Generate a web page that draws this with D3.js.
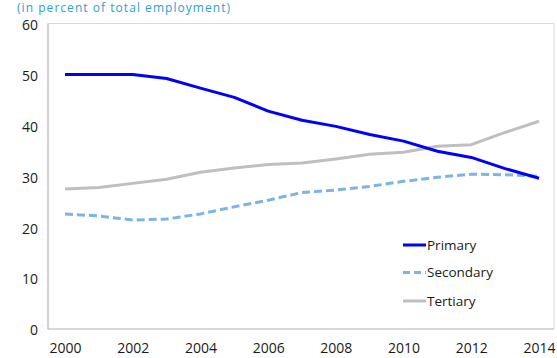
<!DOCTYPE html>
<html><head><meta charset="utf-8">
<script src="https://cdn.jsdelivr.net/npm/d3@7"></script>
<style>
body{margin:0;background:#fff;}
text{font-family:"Open Sans","Noto Sans",sans-serif;}
</style></head>
<body><svg id="c" width="557" height="358"></svg>
<script>
const years = [2000,2001,2002,2003,2004,2005,2006,2007,2008,2009,2010,2011,2012,2013,2014];
const primary   = [50.0,50.0,50.0,49.2,47.3,45.5,42.8,41.0,39.8,38.2,36.9,34.9,33.7,31.5,29.6];
const secondary = [22.6,22.2,21.4,21.6,22.6,24.0,25.3,26.8,27.3,28.0,29.0,29.8,30.4,30.3,30.0];
const tertiary  = [27.5,27.8,28.6,29.4,30.8,31.6,32.3,32.6,33.4,34.3,34.7,35.9,36.2,38.6,40.8];
const yTicks = [0,10,20,30,40,50,60];
const xTicks = [2000,2002,2004,2006,2008,2010,2012,2014];
const seriesNames = ["Primary","Secondary","Tertiary"];
const subtitle = "(in percent of total employment)";

const svg = d3.select("#c");
const L=48, R=554, T=23.5, B=329;
const x = d3.scaleLinear().domain([2000,2014]).range([65,539]);
const y = d3.scaleLinear().domain([0,60]).range([B,T]);

svg.append("text").attr("x",17).attr("y",11.5).attr("fill","#2a9fd0")
  .attr("font-family","'Liberation Sans',Arial,sans-serif")
  .attr("font-size",12).attr("textLength",213).attr("lengthAdjust","spacing").text(subtitle);

// frame
svg.append("path").attr("d",`M${L},${T}H${R}V${B}`).attr("fill","none")
  .attr("stroke","#d9d9d9").attr("stroke-width",1);
svg.append("path").attr("d",`M${L},${T}V${B}H${R}`).attr("fill","none")
  .attr("stroke","#b3b3b3").attr("stroke-width",1.2);

// y axis
const ya = svg.append("g").attr("transform",`translate(${L},0)`)
  .call(d3.axisLeft(y).tickValues(yTicks).tickSize(0).tickPadding(10));
ya.select(".domain").remove();
ya.selectAll("text").attr("font-size",14).attr("fill","#1a1a1a").attr("dy","0.42em")
  .attr("font-family","'Open Sans','Noto Sans',sans-serif");

// x axis
const xa = svg.append("g").attr("transform",`translate(0,${B})`)
  .call(d3.axisBottom(x).tickValues(xTicks).tickFormat(d3.format("d")).tickSize(0).tickPadding(14));
xa.select(".domain").remove();
xa.selectAll("text").attr("font-size",14).attr("fill","#1a1a1a")
  .attr("font-family","'Open Sans','Noto Sans',sans-serif");

const line = d3.line().x((d,i)=>x(years[i])).y(d=>y(d));
const styles = [
  {data:primary, color:"#0000ff", dash:null},
  {data:secondary, color:"#7db4e6", dash:"8,4"},
  {data:tertiary, color:"#bfbfbf", dash:null}
];
// draw order: tertiary, secondary, primary
[2,1,0].forEach(k=>{
  const s=styles[k];
  svg.append("path").attr("d",line(s.data)).attr("fill","none")
    .attr("stroke",s.color).attr("stroke-width",3)
    .attr("stroke-dasharray",s.dash).attr("stroke-linejoin","round");
});

// legend
const ly = [245,272.5,301];
seriesNames.forEach((n,i)=>{
  const s=styles[i];
  svg.append("line").attr("x1",403).attr("x2",426).attr("y1",ly[i]).attr("y2",ly[i])
    .attr("stroke",s.color).attr("stroke-width",3).attr("stroke-dasharray",s.dash?"7,4":null);
  svg.append("text").attr("x",427).attr("y",ly[i]).attr("dy","0.36em")
    .attr("font-size",13.5).attr("fill","#1a1a1a").text(n);
});
</script></body></html>
